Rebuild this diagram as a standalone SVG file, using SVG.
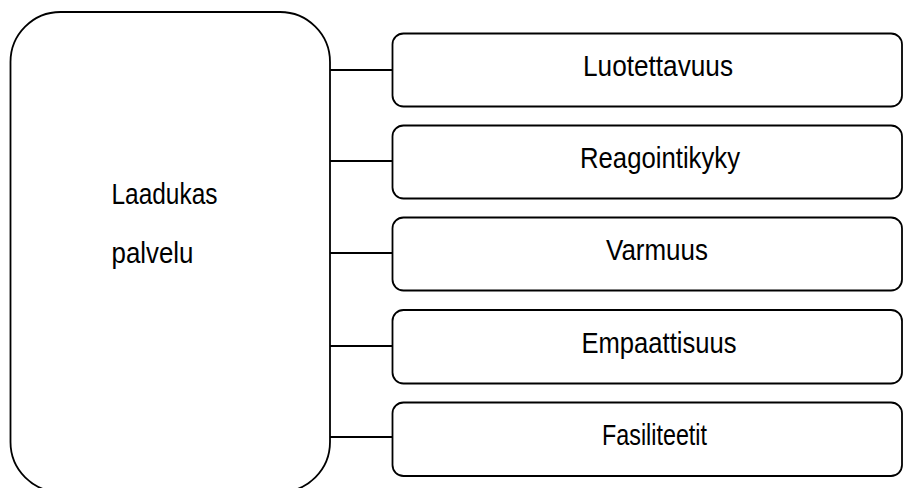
<svg xmlns="http://www.w3.org/2000/svg" width="915" height="488" viewBox="0 0 915 488">
  <style>
    .box { fill: #ffffff; stroke: #000000; stroke-width: 1.8; }
    .link { stroke: #000000; stroke-width: 1.8; fill: none; }
    .label { font-family: "Liberation Sans", Arial, sans-serif; font-size: 30px; fill: #000000; }
    .mid { text-anchor: middle; }
  </style>
  <rect width="915" height="488" fill="#ffffff"/>

  <!-- connectors from the main box to each quality dimension -->
  <g id="connectors">
    <line class="link" x1="330" y1="70" x2="392.5" y2="70"/>
    <line class="link" x1="330" y1="161" x2="392.5" y2="161"/>
    <line class="link" x1="330" y1="253" x2="392.5" y2="253"/>
    <line class="link" x1="330" y1="346" x2="392.5" y2="346"/>
    <line class="link" x1="330" y1="437" x2="392.5" y2="437"/>
  </g>

  <!-- main node -->
  <g id="laadukas-palvelu">
    <rect class="box" x="10.5" y="12" width="319.5" height="480" rx="50" ry="50"/>
    <text class="label" x="111.5" y="203.5" textLength="106" lengthAdjust="spacingAndGlyphs">Laadukas</text>
    <text class="label" x="111.5" y="263" textLength="82" lengthAdjust="spacingAndGlyphs">palvelu</text>
  </g>

  <!-- dimension nodes -->
  <g id="luotettavuus">
    <rect class="box" x="392.5" y="33.5" width="509.5" height="73" rx="11" ry="11"/>
    <text class="label mid" x="658" y="75.5" textLength="150" lengthAdjust="spacingAndGlyphs">Luotettavuus</text>
  </g>
  <g id="reagointikyky">
    <rect class="box" x="392.5" y="125.5" width="509.5" height="73" rx="11" ry="11"/>
    <text class="label mid" x="660" y="168" textLength="160" lengthAdjust="spacingAndGlyphs">Reagointikyky</text>
  </g>
  <g id="varmuus">
    <rect class="box" x="392.5" y="217.5" width="509.5" height="73" rx="11" ry="11"/>
    <text class="label mid" x="657" y="260" textLength="102" lengthAdjust="spacingAndGlyphs">Varmuus</text>
  </g>
  <g id="empaattisuus">
    <rect class="box" x="392.5" y="310" width="509.5" height="73.5" rx="11" ry="11"/>
    <text class="label mid" x="659" y="353" textLength="155" lengthAdjust="spacingAndGlyphs">Empaattisuus</text>
  </g>
  <g id="fasiliteetit">
    <rect class="box" x="392.5" y="402.5" width="509.5" height="73.5" rx="11" ry="11"/>
    <text class="label mid" x="654.5" y="445" textLength="105" lengthAdjust="spacingAndGlyphs">Fasiliteetit</text>
  </g>
</svg>
